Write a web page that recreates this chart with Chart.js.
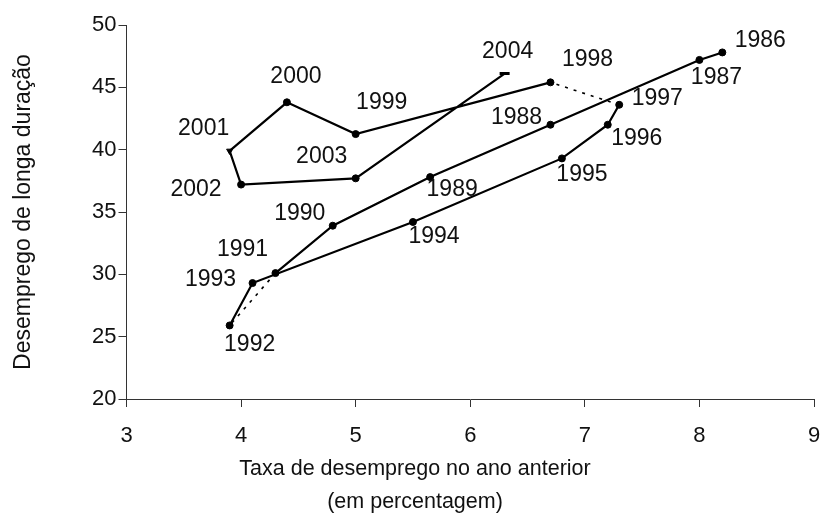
<!DOCTYPE html>
<html>
<head>
<meta charset="utf-8">
<script src="https://cdn.jsdelivr.net/npm/chart.js@4/dist/chart.umd.min.js"></script>
<style>
  html, body { margin: 0; padding: 0; background: #fff; }
  #wrap { width: 822px; height: 520px; }
</style>
</head>
<body>
<div id="wrap"><canvas id="c" width="822" height="520"></canvas></div>
<script>
// Years, in the order the path is traced
const years = [1986, 1987, 1988, 1989, 1990, 1991, 1992, 1993, 1994, 1995,
               1996, 1997, 1998, 1999, 2000, 2001, 2002, 2003, 2004];
// Unemployment rate in the previous year (%)
const unemploymentPrevYear = [8.2, 8.0, 6.7, 5.65, 4.8, 4.3, 3.9, 4.1, 5.5, 6.8,
                              7.2, 7.3, 6.7, 5.0, 4.4, 3.9, 4.0, 5.0, 6.3];
// Long-term unemployment share (%)
const longTermShare = [47.8, 47.2, 42.0, 37.8, 33.9, 30.1, 25.9, 29.3, 34.2, 39.3,
                       42.0, 43.6, 45.4, 41.25, 43.8, 39.9, 37.2, 37.7, 46.1];
// Axis ticks
const xTicks = [3, 4, 5, 6, 7, 8, 9];
const yTicks = [20, 25, 30, 35, 40, 45, 50];
// Links that start at these years are drawn dotted
const dottedFrom = [1991, 1997];

// Year label placement relative to its point (px)
const labelOffsets = {
  1986: [38, -12], 1987: [17, 18], 1988: [-34, -7], 1989: [22, 13],
  1990: [-33, -12], 1991: [-33, -23], 1992: [20, 19], 1993: [-42, -3],
  1994: [21, 15], 1995: [20, 16], 1996: [29, 14], 1997: [38, -6],
  1998: [37, -23], 1999: [26, -31], 2000: [9, -26], 2001: [-26, -22],
  2002: [-45, 5], 2003: [-34, -22], 2004: [3, -22]
};

const FONT = "'Liberation Sans', Arial, sans-serif";
const INK = '#111';

const points = years.map((y, i) => ({ x: unemploymentPrevYear[i], y: longTermShare[i] }));

const yearLabels = {
  id: 'yearLabels',
  afterDatasetsDraw(chart) {
    const ctx = chart.ctx;
    const meta = chart.getDatasetMeta(0);
    ctx.save();
    ctx.font = '23px ' + FONT;
    ctx.fillStyle = INK;
    ctx.textAlign = 'center';
    ctx.textBaseline = 'middle';
    meta.data.forEach((el, i) => {
      const off = labelOffsets[years[i]] || [0, -20];
      ctx.fillText(String(years[i]), el.x + off[0], el.y + off[1]);
    });
    ctx.restore();
  }
};

// The bottom caption is centred on the whole figure, a little right of the canvas middle
const captionShift = {
  id: 'captionShift',
  afterLayout(chart) {
    if (chart.titleBlock) {
      chart.titleBlock.left += 14;
    }
  }
};

new Chart(document.getElementById('c'), {
  type: 'line',
  data: {
    datasets: [{
      data: points,
      borderColor: '#000',
      borderWidth: 2.2,
      backgroundColor: '#000',
      pointBackgroundColor: '#000',
      pointBorderColor: '#000',
      pointRadius: years.map(y => (y === 2004 ? 5 : 3.5)),
      pointStyle: years.map(y => (y === 2004 ? 'line' : (y === 2001 ? 'triangle' : 'circle'))),
      pointRotation: years.map(y => (y === 2001 ? 180 : 0)),
      pointBorderWidth: years.map(y => (y === 2004 ? 3 : 1)),
      tension: 0,
      fill: false,
      segment: {
        borderDash: ctx => (dottedFrom.includes(years[ctx.p0DataIndex]) ? [3, 6] : undefined),
        borderWidth: ctx => (dottedFrom.includes(years[ctx.p0DataIndex]) ? 1.6 : 2.2)
      }
    }]
  },
  options: {
    responsive: false,
    animation: false,
    layout: { padding: { top: 25, right: 6, bottom: 1, left: 0 } },
    plugins: {
      legend: { display: false },
      tooltip: { enabled: false },
      title: {
        display: true,
        position: 'bottom',
        text: ['Taxa de desemprego no ano anterior', '(em percentagem)'],
        color: INK,
        font: { family: FONT, size: 21.5, weight: 'normal', lineHeight: 33 / 21.5 },
        padding: { top: 0, bottom: 0 }
      }
    },
    scales: {
      x: {
        type: 'linear',
        min: xTicks[0],
        max: xTicks[xTicks.length - 1],
        afterBuildTicks: s => { s.ticks = xTicks.map(v => ({ value: v })); },
        afterFit: s => { s.height = 54; s.paddingLeft = 0; s.paddingRight = 0; },
        ticks: { color: INK, font: { family: FONT, size: 22 }, padding: 16, maxRotation: 0 },
        grid: { drawOnChartArea: false, tickLength: 8, color: '#333', lineWidth: 1 },
        border: { color: '#333', width: 1 }
      },
      y: {
        type: 'linear',
        min: yTicks[0],
        max: yTicks[yTicks.length - 1],
        afterBuildTicks: s => { s.ticks = yTicks.map(v => ({ value: v })); },
        afterFit: s => { s.width = 126.5; },
        ticks: { color: INK, font: { family: FONT, size: 22 }, padding: 2 },
        grid: { drawOnChartArea: false, tickLength: 8, color: '#333', lineWidth: 1 },
        border: { color: '#333', width: 1 },
        title: {
          display: true,
          text: 'Desemprego de longa duração',
          color: INK,
          font: { family: FONT, size: 23 },
          padding: { top: 10, bottom: 0 }
        }
      }
    }
  },
  plugins: [yearLabels, captionShift]
});
</script>
</body>
</html>
